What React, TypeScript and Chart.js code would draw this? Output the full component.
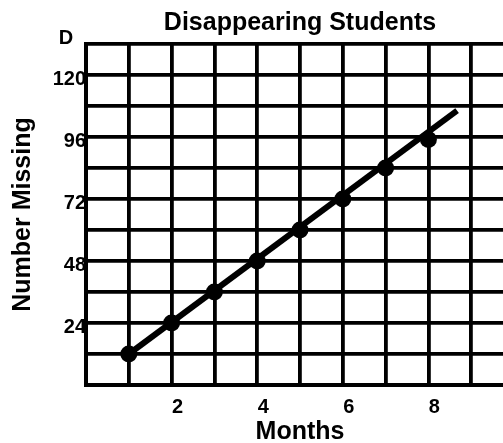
import React, { useEffect, useRef } from "react";
import { Chart, registerables } from "chart.js";

Chart.register(...registerables);

const months = [1, 2, 3, 4, 5, 6, 7, 8];
const missing = [12, 24, 36, 48, 60, 72, 84, 95];
const trendX = [1, 8.67];
const trendY = [12, 106.2];
const xTickLabels = [2, 4, 6, 8];
const yTickLabels = [24, 48, 72, 96, 120];
const cornerLabel = "D";

const FONT = "'Liberation Sans', Arial, sans-serif";

const cornerPlugin = {
  id: "cornerLabel",
  afterDraw(chart: any) {
    const { ctx, chartArea } = chart;
    ctx.save();
    ctx.font = `bold 20px ${FONT}`;
    ctx.fillStyle = "#000";
    ctx.textAlign = "center";
    ctx.textBaseline = "middle";
    ctx.fillText(cornerLabel, chartArea.left - 20, chartArea.top - 6);
    ctx.restore();
  },
};

export default function App() {
  const ref = useRef<HTMLCanvasElement>(null);
  useEffect(() => {
    if (!ref.current) return;
    const chart = new Chart(ref.current, {
      type: "scatter",
      data: {
        datasets: [
          {
            label: "trend",
            data: trendX.map((x, i) => ({ x, y: trendY[i] })),
            showLine: true,
            borderColor: "#000",
            borderWidth: 6,
            pointRadius: 0,
            borderCapStyle: "butt",
          },
          {
            label: "points",
            data: months.map((x, i) => ({ x, y: missing[i] })),
            backgroundColor: "#000",
            borderColor: "#000",
            pointRadius: 8.5,
            borderWidth: 0,
          },
        ],
      },
      options: {
        responsive: false,
        animation: false,
        layout: { padding: { left: 0, right: 3, top: 0, bottom: 0 } },
        plugins: {
          legend: { display: false },
          tooltip: { enabled: false },
          title: {
            display: true,
            text: "Disappearing Students",
            fullSize: false,
            color: "#000",
            font: { family: FONT, size: 25, weight: "bold", lineHeight: 1.2 },
            padding: { top: 8, bottom: 6 },
          },
        },
        scales: {
          x: {
            type: "linear",
            min: 0,
            max: 10,
            afterFit: (s: any) => {
              s.height = 58;
            },
            border: { display: true, color: "#000", width: 4 },
            grid: { color: "#000", lineWidth: 3.8, drawTicks: false },
            ticks: {
              stepSize: 1,
              padding: 10,
              labelOffset: 6,
              color: "#000",
              font: { family: FONT, size: 20, weight: "bold" },
              callback: (v: any) => (xTickLabels.includes(Number(v)) ? String(v) : ""),
            },
            title: {
              display: true,
              text: "Months",
              color: "#000",
              font: { family: FONT, size: 25, weight: "bold", lineHeight: 0.9 },
              padding: { top: 0, bottom: 0 },
            },
          },
          y: {
            type: "linear",
            min: 0,
            max: 132,
            afterFit: (s: any) => {
              s.width = 86;
            },
            border: { display: true, color: "#000", width: 4 },
            grid: { color: "#000", lineWidth: 3.8, drawTicks: false },
            ticks: {
              stepSize: 12,
              padding: 0,
              labelOffset: 4,
              color: "#000",
              font: { family: FONT, size: 20, weight: "bold" },
              callback: (v: any) => (yTickLabels.includes(Number(v)) ? String(v) : ""),
            },
            title: {
              display: true,
              text: "Number Missing",
              color: "#000",
              font: { family: FONT, size: 25, weight: "bold", lineHeight: 1 },
              padding: { top: 11, bottom: 0 },
            },
          },
        },
      },
      plugins: [cornerPlugin],
    } as any);
    return () => chart.destroy();
  }, []);
  return (
    <div
      style={{
        position: "absolute",
        left: 0,
        top: 0,
        width: 503,
        height: 443,
        overflow: "hidden",
        background: "#fff",
      }}
    >
      <canvas ref={ref} width={524} height={443} style={{ display: "block" }} />
    </div>
  );
}
